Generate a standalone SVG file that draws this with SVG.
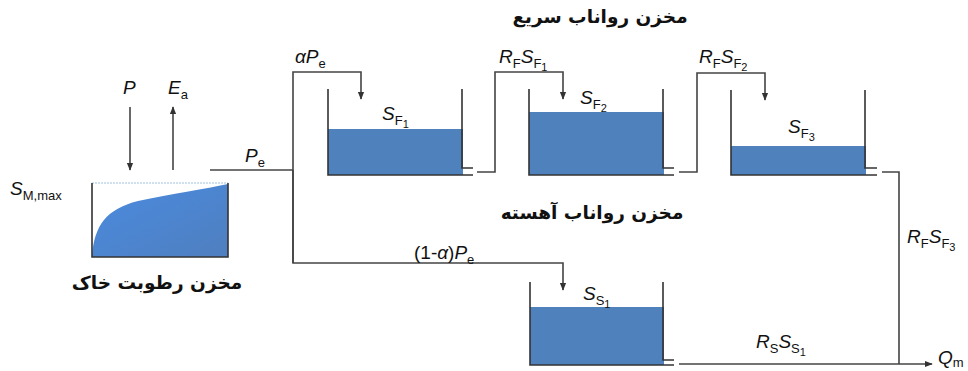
<svg xmlns="http://www.w3.org/2000/svg" width="968" height="371" viewBox="0 0 968 371">
<defs>
<marker id="arr" viewBox="0 0 10 10" refX="9" refY="5" markerWidth="5" markerHeight="5" orient="auto"><path d="M0,1 L10,5 L0,9 Z" fill="#333"/></marker>
<linearGradient id="soilg" x1="0" y1="0" x2="1" y2="1"><stop offset="0" stop-color="#4a8be0"/><stop offset="1" stop-color="#4f7fbf"/></linearGradient>
<style>
.w{stroke:#333;stroke-width:1.6;fill:none}
.c{stroke:#444;stroke-width:1.6;fill:none}
.water{fill:#4f81bd}
.lab{font-family:"Liberation Sans",Arial,sans-serif;font-style:italic;font-size:19px;fill:#111}
.sub{font-style:normal;font-size:13px}
.ss{font-style:normal;font-size:11px}
.fa{font-family:"DejaVu Sans","Noto Sans",sans-serif;font-weight:bold;font-size:18.5px;fill:#111}
</style>
</defs>
<rect width="968" height="371" fill="#fff"/>

<g id="soil">
<path d="M92,257 C94,226 106,209 138,201 C175,193 205,189 228,184 L228,257 Z" fill="url(#soilg)"/>
<line x1="92" y1="183" x2="228" y2="183" stroke="#9fc3e0" stroke-width="1" stroke-dasharray="2,1"/>
<path class="w" d="M92,183 V257 H228 V183"/>
</g>

<g id="tankF1">
<rect class="water" x="328" y="129" width="135" height="46"/>
<path class="w" d="M328,89 V175 H473 M462,89 V168 H473"/>
</g>
<g id="tankF2">
<rect class="water" x="529" y="112" width="135" height="63"/>
<path class="w" d="M529,89 V175 H674 M663,89 V168 H674"/>
</g>
<g id="tankF3">
<rect class="water" x="731" y="146" width="135" height="29"/>
<path class="w" d="M731,90 V175 H877 M865,90 V168 H877"/>
</g>
<g id="tankS1">
<rect class="water" x="530" y="307" width="134" height="58"/>
<path class="w" d="M530,282 V365 H674 M663,282 V360 H674"/>
</g>

<g id="connectors">
<line class="c" x1="130" y1="107" x2="130" y2="170" marker-end="url(#arr)"/>
<line class="c" x1="173" y1="170" x2="173" y2="107" marker-end="url(#arr)"/>
<line class="c" x1="210" y1="170" x2="293" y2="170"/>
<path class="c" d="M293,263 V72 H361 V99" marker-end="url(#arr)"/>
<path class="c" d="M293,170 V263 H563 V290" marker-end="url(#arr)"/>
<path class="c" d="M477,172 H495 V72 H563 V99" marker-end="url(#arr)"/>
<path class="c" d="M679,172 H697 V73 H765 V100" marker-end="url(#arr)"/>
<path class="c" d="M882,172 H899 V364"/>
<path class="c" d="M679,364 H932" marker-end="url(#arr)"/>
</g>

<g id="labels">
<text class="lab" x="123" y="94">P</text>
<text class="lab" x="168" y="94">E<tspan class="sub" dy="5">a</tspan></text>
<text class="lab" x="10" y="195">S<tspan class="sub" dy="5">M,max</tspan></text>
<text class="lab" x="245" y="162">P<tspan class="sub" dy="5">e</tspan></text>
<text class="lab" x="295" y="63">αP<tspan class="sub" dy="5">e</tspan></text>
<text class="lab" x="382" y="120">S<tspan class="sub" dy="5">F</tspan><tspan class="ss" dy="3">1</tspan></text>
<text class="lab" x="499" y="63">R<tspan class="sub" dy="5">F</tspan><tspan dy="-5">S</tspan><tspan class="sub" dy="5">F</tspan><tspan class="ss" dy="3">1</tspan></text>
<text class="lab" x="580" y="104">S<tspan class="sub" dy="5">F</tspan><tspan class="ss" dy="3">2</tspan></text>
<text class="lab" x="699" y="63">R<tspan class="sub" dy="5">F</tspan><tspan dy="-5">S</tspan><tspan class="sub" dy="5">F</tspan><tspan class="ss" dy="3">2</tspan></text>
<text class="lab" x="788" y="133">S<tspan class="sub" dy="5">F</tspan><tspan class="ss" dy="3">3</tspan></text>
<text class="lab" x="414" y="259"><tspan font-style="normal">(1-</tspan>α<tspan font-style="normal">)</tspan>P<tspan class="sub" dy="5">e</tspan></text>
<text class="lab" x="583" y="300">S<tspan class="sub" dy="5">S</tspan><tspan class="ss" dy="3">1</tspan></text>
<text class="lab" x="907" y="243">R<tspan class="sub" dy="5">F</tspan><tspan dy="-5">S</tspan><tspan class="sub" dy="5">F</tspan><tspan class="ss" dy="3">3</tspan></text>
<text class="lab" x="756" y="348">R<tspan class="sub" dy="5">S</tspan><tspan dy="-5">S</tspan><tspan class="sub" dy="5">S</tspan><tspan class="ss" dy="3">1</tspan></text>
<text class="lab" x="938" y="364">Q<tspan class="sub" dy="3">m</tspan></text>
<text class="fa" x="600" y="23" text-anchor="middle">مخزن رواناب سریع</text>
<text class="fa" x="592" y="219" text-anchor="middle">مخزن رواناب آهسته</text>
<text class="fa" x="157" y="289" text-anchor="middle">مخزن رطوبت خاک</text>
</g>
</svg>
